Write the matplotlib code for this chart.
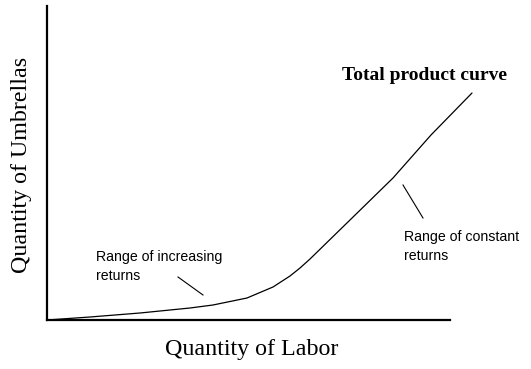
import matplotlib
matplotlib.use("Agg")
import matplotlib.pyplot as plt

labor = [0, 43, 93, 143, 166, 200, 226, 243, 253, 263, 303, 346, 384, 425]
umbrellas = [0, 3, 7, 12, 15, 22, 33, 44, 52, 61, 100, 142, 185, 227]

# short leader lines from the notes to the curve
lead_increasing_x = [131, 156]
lead_increasing_y = [43, 25]
lead_constant_x = [356, 376]
lead_constant_y = [135, 102]

serif = "Liberation Serif"
sans = "Liberation Sans"

fig = plt.figure(figsize=(5.31, 3.69), dpi=100)
ax = fig.add_axes([47 / 531, 49 / 369, 403 / 531, 314 / 369])
ax.set_xlim(0, 403)
ax.set_ylim(0, 314)

for side in ("top", "right"):
    ax.spines[side].set_visible(False)
for side in ("left", "bottom"):
    ax.spines[side].set_linewidth(1.6)
ax.set_xticks([])
ax.set_yticks([])

ax.plot(labor, umbrellas, color="black", lw=0.9, clip_on=False,
        solid_joinstyle="round", solid_capstyle="round")
ax.plot(lead_increasing_x, lead_increasing_y, color="black", lw=0.8)
ax.plot(lead_constant_x, lead_constant_y, color="black", lw=0.8)

ax.text(295, 240, "Total product curve", family=serif, fontweight="bold",
        fontsize=14, va="baseline", ha="left")
ax.text(49, 70, "Range of increasing\nreturns", family=sans, fontsize=10.2,
        va="top", ha="left", linespacing=1.5)
ax.text(357, 90, "Range of constant\nreturns", family=sans, fontsize=10.2,
        va="top", ha="left", linespacing=1.5)

fig.text(252 / 531, 1 - 355 / 369, "Quantity of Labor", family=serif,
         fontsize=17.3, ha="center", va="baseline")
fig.text(22 / 531, 1 - 165 / 369, "Quantity of Umbrellas", family=serif,
         fontsize=17.3, ha="center", va="center", rotation=90)

fig.savefig("out.png", dpi=100)
